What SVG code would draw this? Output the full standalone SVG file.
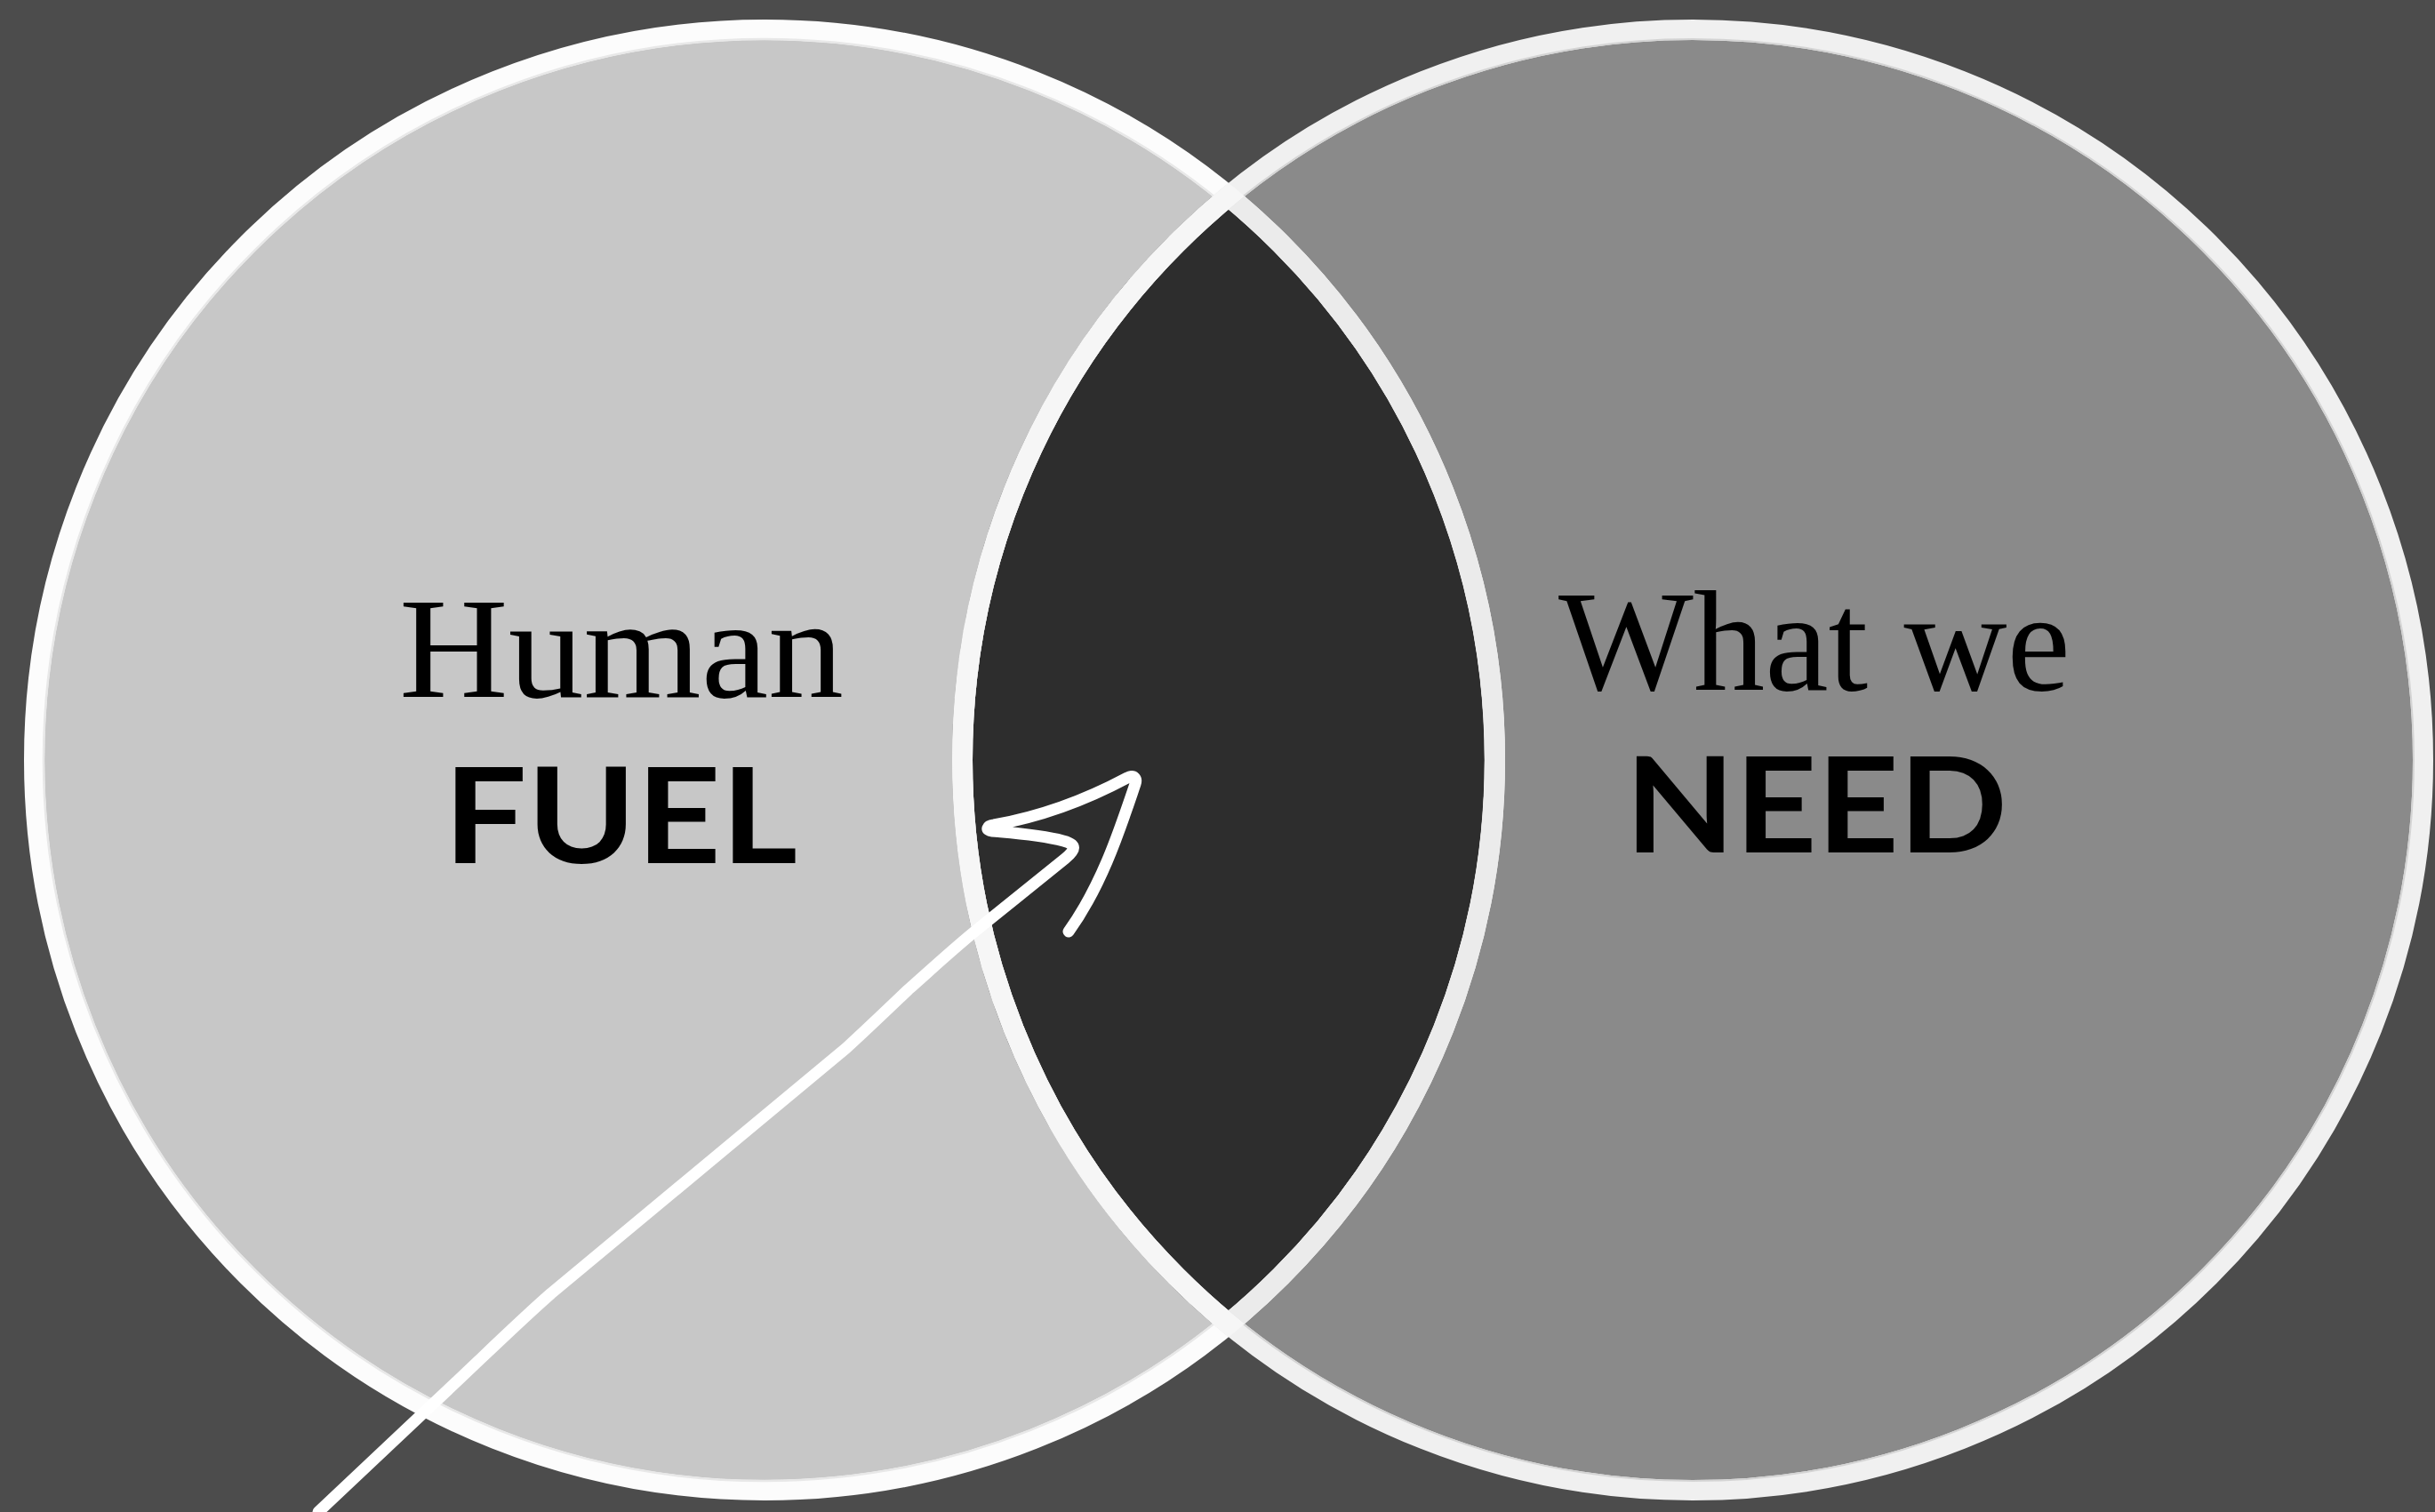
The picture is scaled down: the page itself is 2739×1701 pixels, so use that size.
<svg xmlns="http://www.w3.org/2000/svg" width="2739" height="1701" viewBox="0 0 2739 1701">
  <style>
    .serif { font-family: "Liberation Serif", "Times New Roman", serif; font-size: 160px; fill: #000; }
    .sans { font-family: Lato, "Liberation Sans", Arial, sans-serif; font-weight: 700; font-size: 150px; fill: #000; }
    .arrow { fill: none; stroke: #ffffff; stroke-width: 13; stroke-linecap: round; stroke-linejoin: round; }
  </style>
  <defs>
    <clipPath id="clipRight"><circle cx="1904" cy="855" r="833"/></clipPath>
    <clipPath id="clipLeft"><circle cx="860" cy="855" r="833"/></clipPath>
  </defs>
  <rect x="0" y="0" width="2739" height="1701" fill="#4c4c4c"/>

  <g id="human-fuel">
    <circle cx="860" cy="855" r="821.5" fill="#c7c7c7"/>
  </g>
  <g id="what-we-need">
    <circle cx="1904" cy="855" r="821.5" fill="#8a8a8a"/>
  </g>
  <g id="overlap">
    <circle cx="860" cy="855" r="821.5" fill="#2d2d2d" clip-path="url(#clipRight)"/>
  </g>

  <g id="rings">
    <circle cx="860" cy="855" r="821.5" fill="none" stroke="#fcfcfc" stroke-width="23"/>
    <circle cx="860" cy="855" r="811" fill="none" stroke="#e8e8e8" stroke-width="2.5"/>
    <circle cx="860" cy="855" r="821.5" fill="none" stroke="#ebebeb" stroke-width="23" clip-path="url(#clipRight)"/>
    <circle cx="1904" cy="855" r="821.5" fill="none" stroke="#f0f0f0" stroke-width="23"/>
    <circle cx="1904" cy="855" r="811" fill="none" stroke="#d4d4d4" stroke-width="2"/>
    <circle cx="1904" cy="855" r="821.5" fill="none" stroke="#f6f6f6" stroke-width="23" clip-path="url(#clipLeft)"/>
  </g>

  <g id="labels-left">
    <text class="serif" x="699" y="784" text-anchor="middle" textLength="500" lengthAdjust="spacingAndGlyphs">Human</text>
    <text class="sans" x="698" y="971" text-anchor="middle" textLength="398" lengthAdjust="spacingAndGlyphs">FUEL</text>
  </g>
  <g id="labels-right">
    <text class="serif" x="2041" y="776" text-anchor="middle" textLength="576" lengthAdjust="spacingAndGlyphs">What we</text>
    <text class="sans" x="2043" y="959" text-anchor="middle" textLength="430" lengthAdjust="spacingAndGlyphs">NEED</text>
  </g>

  <g id="connectors">
    <path class="arrow" d="M358,1701 L480,1586 C540,1530 580,1490 620,1455 L952,1179 C975,1158 1000,1134 1022,1113 C1048,1090 1075,1065 1100,1045 L1198,966 C1210,956 1212,950 1196,946 C1170,939 1138,937 1116,935 C1108,934 1110,929 1118,928 C1175,918 1225,898 1268,875 C1276,871 1279,876 1277,882 C1260,932 1240,995 1202,1048"/>
  </g>
</svg>
